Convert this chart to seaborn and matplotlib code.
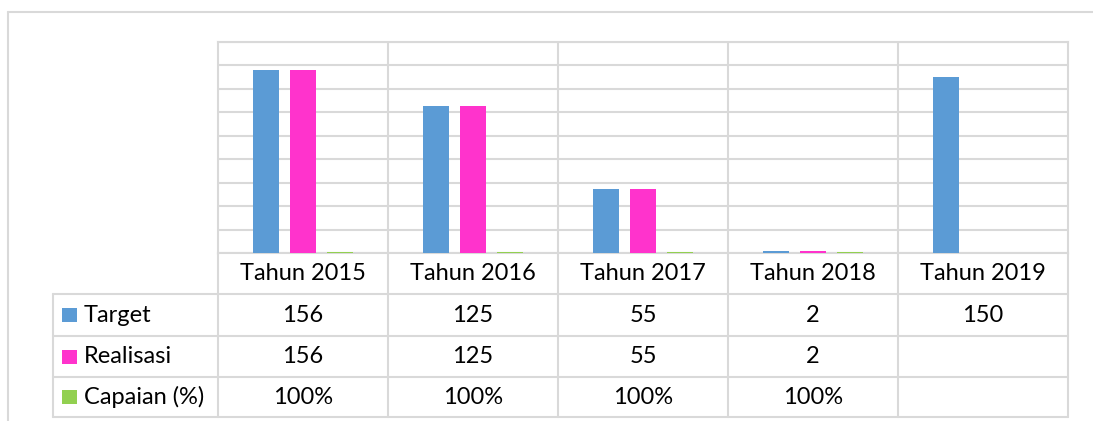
import matplotlib
matplotlib.use("Agg")
import matplotlib.pyplot as plt
from matplotlib.lines import Line2D
from matplotlib.patches import Rectangle
import numpy as np
import pandas as pd
import seaborn as sns

# Data
categories = ["Tahun 2015", "Tahun 2016", "Tahun 2017", "Tahun 2018", "Tahun 2019"]
target = [156, 125, 55, 2, 150]
realisasi = [156, 125, 55, 2, None]
capaian_pct = [100, 100, 100, 100, None]
series_names = ["Target", "Realisasi", "Capaian (%)"]
colors = ["#5B9BD5", "#FF33CC", "#92D050"]

W, H = 1093, 421
GRID = "#D9D9D9"
FONT = "Lato"

sns.set_theme(style="white")
plt.rcParams["font.family"] = [FONT, "DejaVu Sans"]

capaian_val = [None if v is None else v / 100 for v in capaian_pct]
rows = []
for i, c in enumerate(categories):
    rows.append((c, series_names[0], target[i]))
    rows.append((c, series_names[1], realisasi[i]))
    rows.append((c, series_names[2], capaian_val[i]))
df = pd.DataFrame(rows, columns=["kategori", "seri", "nilai"])
df["nilai"] = df["nilai"].astype(float)

fig = plt.figure(figsize=(W / 100, H / 100), dpi=100)


def fx(x):
    return x / W


def fy(y):
    return 1 - y / H


# plot area geometry in pixels
PL, PR, PT, PB = 218, 1068, 42, 253
ax = fig.add_axes([fx(PL), fy(PB), fx(PR) - fx(PL), fy(PT) - fy(PB)])

sns.barplot(data=df, x="kategori", y="nilai", hue="seri", order=categories,
            hue_order=series_names, palette=colors, width=0.66, gap=0.3,
            errorbar=None, saturation=1, ax=ax, legend=False, zorder=3,
            linewidth=0)

ax.set_xlim(-0.5, len(categories) - 0.5)
ax.set_ylim(0, 180)
ax.set_yticks(np.arange(0, 181, 20))
ax.yaxis.grid(True, color=GRID, linewidth=1.5)
ax.set_axisbelow(True)
for k in range(1, len(categories)):
    ax.axvline(k - 0.5, color=GRID, linewidth=1.5, zorder=1)
for s in ax.spines.values():
    s.set_color(GRID)
    s.set_linewidth(1.5)
ax.set_xticks([])
ax.set_yticklabels([])
ax.tick_params(left=False, bottom=False)
ax.set_xlabel("")
ax.set_ylabel("")


def hline(y, x0, x1):
    fig.add_artist(Line2D([fx(x0), fx(x1)], [fy(y), fy(y)], color=GRID,
                          linewidth=1.5, transform=fig.transFigure))


def vline(x, y0, y1):
    fig.add_artist(Line2D([fx(x), fx(x)], [fy(y0), fy(y1)], color=GRID,
                          linewidth=1.5, transform=fig.transFigure))


# outer chart frame
hline(12, 8, W)
vline(8, 12, H)

# data table
row_edges = [253, 294, 336, 377, 417]
col_edges = [PL + k * (PR - PL) / len(categories) for k in range(len(categories) + 1)]
TL = 53

for y in row_edges[1:]:
    hline(y, TL, PR)
for x in col_edges:
    vline(x, row_edges[0], row_edges[-1])
vline(TL, row_edges[1], row_edges[-1])

fs = 17
for i, c in enumerate(categories):
    xc = (col_edges[i] + col_edges[i + 1]) / 2
    fig.text(fx(xc), fy((row_edges[0] + row_edges[1]) / 2), c, ha="center",
             va="center", fontsize=fs, color="#000000")

row_values = [target, realisasi, capaian_pct]
for r, (name, vals) in enumerate(zip(series_names, row_values)):
    y0, y1 = row_edges[r + 1], row_edges[r + 2]
    yc = (y0 + y1) / 2
    fig.add_artist(Rectangle((fx(62), fy(yc + 7)), fx(15) - fx(0), fy(0) - fy(14),
                             facecolor=colors[r], edgecolor="none",
                             transform=fig.transFigure))
    fig.text(fx(84), fy(yc), name, ha="left", va="center", fontsize=fs,
             color="#000000")
    for i, v in enumerate(vals):
        if v is None:
            continue
        xc = (col_edges[i] + col_edges[i + 1]) / 2
        label = f"{v}%" if r == 2 else f"{v}"
        fig.text(fx(xc), fy(yc), label, ha="center", va="center", fontsize=fs,
                 color="#000000")

fig.savefig("out.png", dpi=100, facecolor="white")
